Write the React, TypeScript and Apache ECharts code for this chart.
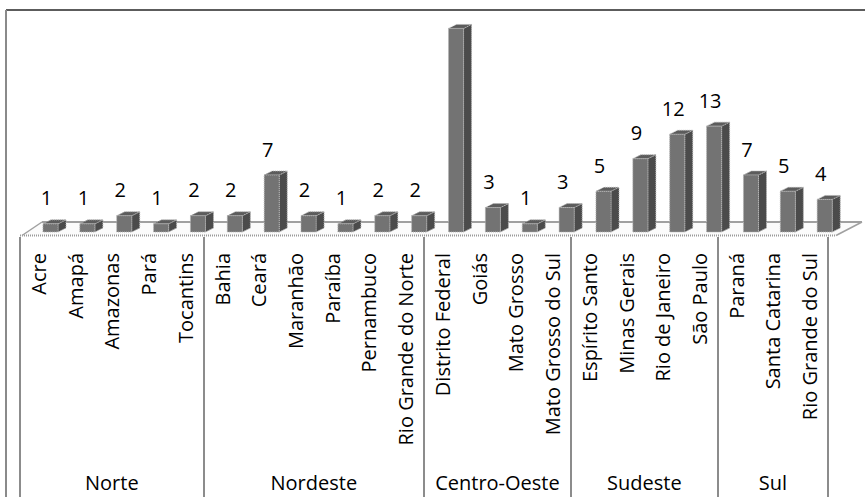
import React, { useEffect, useRef } from "react";
import * as echarts from "echarts";

const states = [
  "Acre", "Amapá", "Amazonas", "Pará", "Tocantins",
  "Bahia", "Ceará", "Maranhão", "Paraíba", "Pernambuco", "Rio Grande do Norte",
  "Distrito Federal", "Goiás", "Mato Grosso", "Mato Grosso do Sul",
  "Espírito Santo", "Minas Gerais", "Rio de Janeiro", "São Paulo",
  "Paraná", "Santa Catarina", "Rio Grande do Sul",
];
const counts = [1, 1, 2, 1, 2, 2, 7, 2, 1, 2, 2, 25, 3, 1, 3, 5, 9, 12, 13, 7, 5, 4];
const regions = ["Norte", "Nordeste", "Centro-Oeste", "Sudeste", "Sul"];
const regionSizes = [5, 6, 4, 4, 3];

const W = 865;
const H = 497;
const GRID_LEFT = 20;
const GRID_RIGHT = 37;
const GRID_TOP = 4;
const GRID_BOTTOM = 265; // baseline at y = 232
const FONT = "'Open Sans', 'Noto Sans', sans-serif";
const FS = 20;

export default function App() {
  const ref = useRef<HTMLDivElement>(null);

  useEffect(() => {
    if (!ref.current) return;
    const chart = echarts.init(ref.current, null, { renderer: "svg" });

    const bounds: number[] = [0];
    regionSizes.forEach((s) => bounds.push(bounds[bounds.length - 1] + s));
    const centers: number[] = regionSizes.map((s, i) => bounds[i] + s / 2);
    const centerName: Record<string, string> = {};
    centers.forEach((c, i) => (centerName[String(c)] = regions[i]));

    const baseY = H - GRID_BOTTOM;
    const axisRight = W - GRID_RIGHT;
    const floorFront = baseY + 3.5;
    const floorBack = baseY - 10;

    const option: any = {
      animation: false,
      backgroundColor: "#ffffff",
      grid: { left: GRID_LEFT, right: GRID_RIGHT, top: GRID_TOP, bottom: GRID_BOTTOM, containLabel: false },
      xAxis: [
        {
          type: "category",
          data: states,
          position: "bottom",
          axisLine: { show: false },
          axisTick: { show: false },
          axisLabel: {
            rotate: 90,
            interval: 0,
            margin: 21,
            fontSize: FS,
            fontFamily: FONT,
            color: "#000",
          },
        },
        {
          type: "value",
          min: 0,
          max: states.length,
          position: "bottom",
          offset: 5,
          axisLine: { show: false },
          splitLine: { show: false },
          axisTick: {
            show: true,
            inside: false,
            length: 270,
            customValues: bounds,
            lineStyle: { color: "#8c8c8c", width: 2 },
          },
          axisLabel: {
            show: true,
            margin: 235,
            customValues: centers,
            fontSize: FS,
            fontFamily: FONT,
            color: "#000",
            formatter: (v: number) => centerName[String(v)] ?? "",
          },
        },
      ],
      yAxis: {
        type: "value",
        min: 0,
        max: 28,
        show: false,
        splitLine: { show: false },
      },
      graphic: [
        {
          type: "polygon",
          z: 0,
          shape: {
            points: [
              [GRID_LEFT + 2, floorFront],
              [axisRight + 8, floorFront],
              [axisRight + 34, floorBack],
              [GRID_LEFT + 22, floorBack],
            ],
          },
          style: { fill: "#fbfbfb", stroke: "none" },
        },
        {
          type: "line",
          z: 0,
          shape: { x1: GRID_LEFT + 22, y1: floorBack, x2: axisRight + 34, y2: floorBack },
          style: { stroke: "#a0a0a0", lineWidth: 2 },
        },
        {
          type: "line",
          z: 0,
          shape: { x1: GRID_LEFT, y1: floorFront, x2: axisRight + 8, y2: floorFront },
          style: { stroke: "#9a9a9a", lineWidth: 2, lineDash: [1, 1] },
        },
        {
          type: "line",
          z: 0,
          shape: { x1: GRID_LEFT + 2, y1: floorFront, x2: GRID_LEFT + 22, y2: floorBack },
          style: { stroke: "#a0a0a0", lineWidth: 1.5 },
        },
        {
          type: "line",
          z: 0,
          shape: { x1: axisRight + 8, y1: floorFront, x2: axisRight + 34, y2: floorBack },
          style: { stroke: "#a0a0a0", lineWidth: 1.5 },
        },
        {
          type: "line",
          z: 10,
          shape: { x1: 6, y1: 10, x2: W, y2: 10 },
          style: { stroke: "#262626", lineWidth: 1.5 },
        },
        {
          type: "line",
          z: 10,
          shape: { x1: 6, y1: 10, x2: 6, y2: H },
          style: { stroke: "#8a8a8a", lineWidth: 2 },
        },
      ],
      series: [
        {
          type: "custom",
          xAxisIndex: 0,
          yAxisIndex: 0,
          z: 5,
          clip: false,
          data: counts.map((v, i) => [i, v]),
          encode: { x: 0, y: 1 },
          renderItem: (params: any, api: any) => {
            const idx = api.value(0);
            const v = api.value(1);
            const base = api.coord([idx, 0]);
            const top = api.coord([idx, v]);
            const band = api.size([1, 0])[0];
            const t = idx / (states.length - 1);
            const shift = band * (0.33 + 0.08 * t);
            const w = band * 0.41;
            const dx = 8;
            const dy = -4;
            const cx = base[0] + shift;
            const x0 = cx - w / 2;
            const x1 = cx + w / 2;
            const yb = base[1];
            const yt = top[1];
            const edge = { stroke: "#b4b4b4", lineWidth: 1, lineDash: [1, 1] };
            const children: any[] = [
              {
                type: "polygon",
                shape: { points: [[x1, yb], [x1 + dx, yb + dy], [x1 + dx, yt + dy], [x1, yt]] },
                style: { fill: "#4b4b4b", ...edge },
              },
              {
                type: "polygon",
                shape: { points: [[x0, yt], [x0 + dx, yt + dy], [x1 + dx, yt + dy], [x1, yt]] },
                style: { fill: "#5c5c5c", ...edge },
              },
              {
                type: "rect",
                shape: { x: x0, y: yt, width: w, height: yb - yt },
                style: { fill: "#737373", ...edge },
              },
            ];
            const ly = yt + dy - 12;
            if (ly - 24 > 12) {
              children.push({
                type: "text",
                style: {
                  x: cx - 4,
                  y: ly,
                  text: String(v),
                  fill: "#000",
                  fontSize: FS,
                  fontFamily: FONT,
                  align: "center",
                  verticalAlign: "bottom",
                },
              });
            }
            return { type: "group", children };
          },
        },
      ],
    };

    chart.setOption(option);
    return () => chart.dispose();
  }, []);

  return (
    <div
      ref={ref}
      style={{ position: "fixed", left: 0, top: 0, width: W, height: H, background: "#fff" }}
    />
  );
}
